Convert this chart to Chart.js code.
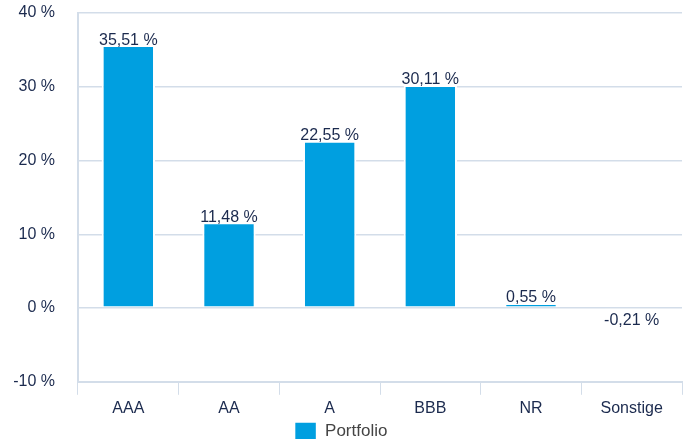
<!DOCTYPE html>
<html><head><meta charset="utf-8">
<script src="https://cdn.jsdelivr.net/npm/chart.js@4/dist/chart.umd.min.js"></script>
<style>html,body{margin:0;padding:0;background:#fff}#w{width:692px;height:439px}</style>
</head><body><div id="w"><canvas id="c"></canvas></div>
<script>
const categories = ['AAA','AA','A','BBB','NR','Sonstige'];
const portfolio = [35.51, 11.48, 22.55, 30.11, 0.55, -0.21];
const seriesName = 'Portfolio';
const yTicks = [-10, 0, 10, 20, 30, 40];

const NAVY = '#1b2a4e';
const GRID = '#d3dde9';
const BAR = '#009fe0';
const FONT = '"Liberation Sans", Arial, Helvetica, sans-serif';

const fmt = v => v.toFixed(2).replace('.', ',') + ' %';

const labelPlugin = {
  id: 'vlabels',
  afterDatasetsDraw(chart) {
    const ctx = chart.ctx;
    const meta = chart.getDatasetMeta(0);
    ctx.save();
    ctx.font = '16px ' + FONT;
    ctx.fillStyle = NAVY;
    ctx.textAlign = 'center';
    meta.data.forEach((el, i) => {
      const v = portfolio[i];
      if (v >= 0) {
        ctx.textBaseline = 'bottom';
        ctx.fillText(fmt(v), el.x, el.y + 2);
      } else {
        ctx.textBaseline = 'top';
        ctx.fillText(fmt(v), el.x, el.y + 3);
      }
    });
    ctx.restore();
  }
};

new Chart(document.getElementById('c'), {
  type: 'bar',
  data: {
    labels: categories,
    datasets: [{
      label: seriesName,
      data: portfolio,
      backgroundColor: BAR,
      borderColor: '#ffffff',
      borderWidth: {left: 2, right: 2, top: 1, bottom: 1},
      borderSkipped: false,
      barPercentage: 0.53,
      categoryPercentage: 1
    }]
  },
  options: {
    responsive: true,
    maintainAspectRatio: false,
    animation: false,
    devicePixelRatio: 1,
    layout: {padding: {left: 0, right: 10, top: 13, bottom: -11}},
    plugins: {
      legend: {
        position: 'bottom',
        labels: {
          boxWidth: 22, boxHeight: 18, padding: 0,
          color: '#444444',
          font: {family: FONT, size: 17}
        }
      },
      tooltip: {enabled: false}
    },
    scales: {
      x: {
        offset: true,
        grid: {display: true, drawOnChartArea: false, drawTicks: true, tickLength: 13, color: GRID, offset: true},
        border: {display: true, color: GRID, width: 2},
        ticks: {color: NAVY, font: {family: FONT, size: 16}, padding: 4}
      },
      y: {
        min: -10, max: 40,
        afterBuildTicks(axis) { axis.ticks = yTicks.map(v => ({value: v})); },
        afterFit(axis) { axis.width = 78; },
        grid: {color: GRID, lineWidth: 1.5, drawTicks: true, tickLength: 23, tickColor: 'rgba(0,0,0,0)'},
        border: {display: true, color: GRID, width: 2},
        ticks: {color: NAVY, font: {family: FONT, size: 16}, padding: 0, callback: v => v + ' %'}
      }
    }
  },
  plugins: [labelPlugin]
});
</script>
</body></html>
